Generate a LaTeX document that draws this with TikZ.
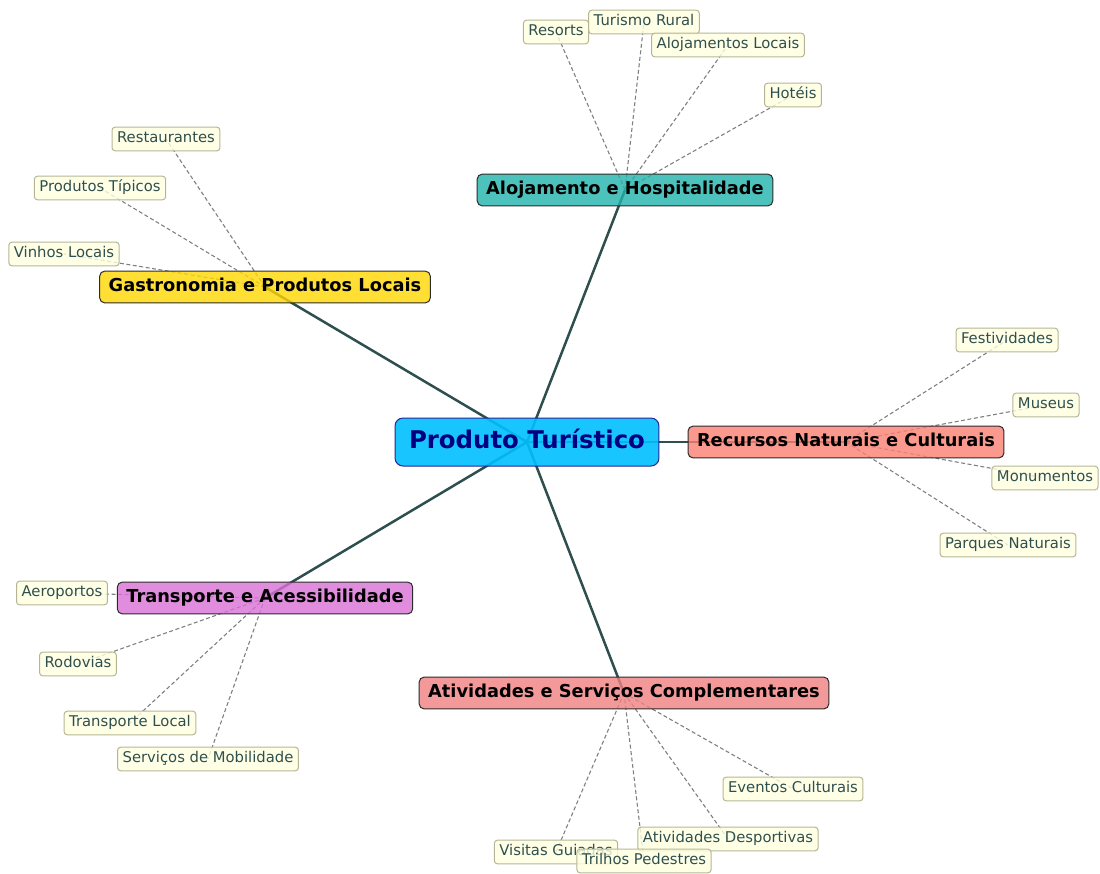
\documentclass[tikz,border=0pt]{standalone}
\usepackage{fontspec}
\setmainfont{DejaVu Sans}
\usetikzlibrary{backgrounds}
\definecolor{dsg}{HTML}{2F4F4F}
\definecolor{dsky}{HTML}{00BFFF}
\definecolor{lsea}{HTML}{20B2AA}
\definecolor{goldc}{HTML}{FFD700}
\definecolor{salm}{HTML}{FA8072}
\definecolor{orch}{HTML}{DA70D6}
\definecolor{lcor}{HTML}{F08080}
\definecolor{lyel}{HTML}{FFFFE0}
\definecolor{leafbd}{HTML}{B5B596}
\definecolor{navyc}{HTML}{000080}
\definecolor{cbd}{HTML}{2B2B2B}
\tikzset{
  rootbox/.style={draw=navyc!85!white, line width=1pt, fill=dsky, fill opacity=0.9, text opacity=1,
    rounded corners=8pt, text=navyc, font=\bfseries\fontsize{24.4}{28}\selectfont,
    text height=18.5pt, text depth=5.9pt, inner xsep=14pt, inner ysep=11.8pt},
  catbox/.style={draw=cbd, line width=1pt, fill opacity=0.8, text opacity=1,
    rounded corners=5pt, text=black, font=\bfseries\fontsize{17.8}{21}\selectfont,
    text height=13.5pt, text depth=4.3pt, inner xsep=9pt, inner ysep=7pt},
  leafbox/.style={draw=leafbd, line width=1pt, fill=lyel, fill opacity=0.8, text opacity=1,
    rounded corners=3pt, text=dsg, font=\fontsize{14.8}{18}\selectfont,
    text height=11.2pt, text depth=3.6pt, inner xsep=5pt, inner ysep=4.4pt},
  mainedge/.style={draw=dsg, line width=2.5pt},
  leafedge/.style={draw=gray, line width=1.1pt, dash pattern=on 4pt off 2.5pt},
}
\begin{document}
\begin{tikzpicture}[x=1pt,y=-1pt]
\useasboundingbox (0,0) rectangle (1100,873);
% root
\node[rootbox] (root) at (527,442) {Produto Turístico};
% categories
\node[catbox, fill=lsea] (aloj) at (625,190) {Alojamento e Hospitalidade};
\node[catbox, fill=goldc] (gast) at (265,287) {Gastronomia e Produtos Locais};
\node[catbox, fill=salm] (recu) at (846,442) {Recursos Naturais e Culturais};
\node[catbox, fill=orch] (tran) at (265,598) {Transporte e Acessibilidade};
\node[catbox, fill=lcor] (ativ) at (624,693) {Atividades e Serviços Complementares};
% leaves
\node[leafbox] (resorts) at (556,32) {Resorts};
\node[leafbox] (turismo) at (644,22) {Turismo Rural};
\node[leafbox] (alojloc) at (728,45) {Alojamentos Locais};
\node[leafbox] (hoteis) at (793,95) {Hotéis};
\node[leafbox] (rest) at (166,139) {Restaurantes};
\node[leafbox] (prodt) at (100,188) {Produtos Típicos};
\node[leafbox] (vinhos) at (64,254) {Vinhos Locais};
\node[leafbox] (fest) at (1007,340) {Festividades};
\node[leafbox] (museus) at (1046,405) {Museus};
\node[leafbox] (monum) at (1045,478) {Monumentos};
\node[leafbox] (parques) at (1008,545) {Parques Naturais};
\node[leafbox] (aero) at (62,593) {Aeroportos};
\node[leafbox] (rodo) at (78,664) {Rodovias};
\node[leafbox] (trloc) at (130,723) {Transporte Local};
\node[leafbox] (servm) at (208,759) {Serviços de Mobilidade};
\node[leafbox] (event) at (793,789) {Eventos Culturais};
\node[leafbox] (desp) at (728,839) {Atividades Desportivas};
\node[leafbox] (visit) at (556,852) {Visitas Guiadas};
\node[leafbox] (trilh) at (644,861) {Trilhos Pedestres};
\begin{pgfonlayer}{background}
\foreach \c in {aloj,gast,recu,tran,ativ}
  \draw[mainedge] (root.center) -- (\c.center);
\foreach \l in {resorts,turismo,alojloc,hoteis}
  \draw[leafedge] (aloj.center) -- (\l.center);
\foreach \l in {rest,prodt,vinhos}
  \draw[leafedge] (gast.center) -- (\l.center);
\foreach \l in {fest,museus,monum,parques}
  \draw[leafedge] (recu.center) -- (\l.center);
\foreach \l in {aero,rodo,trloc,servm}
  \draw[leafedge] (tran.center) -- (\l.center);
\foreach \l in {event,desp,visit,trilh}
  \draw[leafedge] (ativ.center) -- (\l.center);
\end{pgfonlayer}
\end{tikzpicture}
\end{document}
